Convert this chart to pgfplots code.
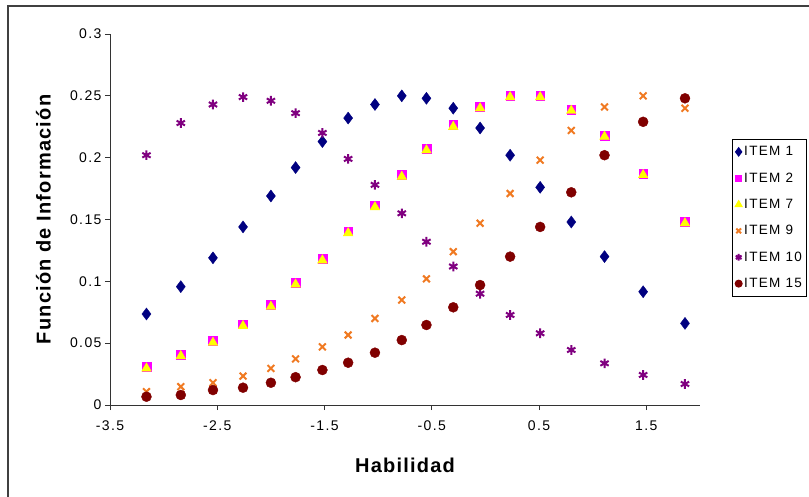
\documentclass[border=0pt]{standalone}
\usepackage{fontspec}
\setmainfont{Liberation Sans}
\newfontfamily\tickfont[LetterSpace=10]{Liberation Sans}
\newfontfamily\labelfont[LetterSpace=6]{Liberation Sans}
\usepackage{pgfplots}
\usepackage{pgfplotstable}
\pgfplotsset{compat=1.18}

\definecolor{item1}{HTML}{000080}
\definecolor{item2}{HTML}{FF00FF}
\definecolor{item7}{HTML}{FFFF00}
\definecolor{item9}{HTML}{F07A22}
\definecolor{item10}{HTML}{800080}
\definecolor{item15}{HTML}{800000}
\definecolor{frame}{HTML}{404040}

% Item information values at each ability level
\pgfplotstableread{
theta  i1     i2     i7     i9     i10    i15
-3.16  0.0736 0.0310 0.0296 0.0108 0.202  0.0067
-2.84  0.0957 0.0410 0.0396 0.0148 0.228  0.0081
-2.54  0.119  0.0518 0.0504 0.0180 0.243  0.0121
-2.26  0.144  0.0653 0.0639 0.0234 0.249  0.0140
-2.00  0.169  0.0810 0.0795 0.0296 0.246  0.0180
-1.77  0.192  0.0990 0.0975 0.0373 0.236  0.0225
-1.52  0.213  0.1185 0.117  0.0470 0.220  0.0283
-1.28  0.232  0.1405 0.139  0.0566 0.199  0.0342
-1.03  0.243  0.1615 0.160  0.0700 0.178  0.0423
-0.78  0.250  0.1860 0.1846 0.0849 0.155  0.0525
-0.55  0.248  0.2075 0.206  0.102  0.132  0.0647
-0.30  0.240  0.2265 0.225  0.124  0.112  0.0790
-0.05  0.224  0.2410 0.240  0.147  0.090  0.0970
 0.23  0.202  0.2500 0.249  0.171  0.0728 0.120
 0.51  0.176  0.2500 0.249  0.198  0.0580 0.144
 0.80  0.148  0.2390 0.238  0.222  0.0445 0.172
 1.11  0.120  0.2180 0.217  0.241  0.0337 0.202
 1.47  0.0916 0.1870 0.186  0.250  0.0243 0.229
 1.86  0.066  0.1485 0.147  0.240  0.0170 0.248
}\infotable

\begin{document}
\begin{tikzpicture}
\useasboundingbox (0bp,0bp) rectangle (809bp,-497bp);
% chart area border
\draw[frame, line width=1.6bp] (8bp,-510bp) -- (8bp,-6bp) -- (820bp,-6bp);
\begin{axis}[
  at={(110bp,-405bp)}, anchor=south west,
  scale only axis, width=590bp, height=371bp,
  xmin=-3.5, xmax=2, ymin=0, ymax=0.3,
  axis x line=bottom, axis y line=left,
  axis line style={black!80, line width=1bp, -},
  xtick={-3.5,-2.5,-1.5,-0.5,0.5,1.5},
  xticklabels={-3.5,-2.5,-1.5,-0.5,0.5,1.5},
  ytick={0,0.05,0.1,0.15,0.2,0.25,0.3},
  yticklabels={0,0.05,0.1,0.15,0.2,0.25,0.3},
  tick align=outside, major tick length=5bp,
  tick style={black!80, line width=1bp},
  ticklabel style={font=\tickfont\fontsize{14bp}{16bp}\selectfont},
  xticklabel style={yshift=-7bp},
  xlabel={Habilidad},
  ylabel={Función de Información},
  every axis x label/.style={at={(axis description cs:0.5,-0.1617)}, anchor=center,
    font=\labelfont\bfseries\fontsize{20bp}{22bp}\selectfont},
  every axis y label/.style={at={(axis description cs:-0.1127,0.5)}, anchor=center, rotate=90,
    font=\labelfont\bfseries\fontsize{20bp}{22bp}\selectfont},
  legend style={at={(axis description cs:1.0537,0.717)}, anchor=north west,
    draw=black, line width=1bp, inner xsep=3bp, inner ysep=5bp,
    font=\tickfont\fontsize{13.5bp}{15bp}\selectfont, row sep=11.5bp,
    cells={anchor=west}},
  legend image code/.code={\draw[mark repeat=2,mark phase=2, mark options={scale=0.7}]
    plot coordinates {(0bp,0bp)(6bp,0bp)(12bp,0bp)};},
  clip=false,
]
\addplot[only marks, mark=diamond*, mark size=6bp, color=item1] table[x=theta,y=i1] {\infotable};
\addlegendentry{ITEM 1}
\addplot[only marks, mark=square*, mark size=4.4bp, color=item2] table[x=theta,y=i2] {\infotable};
\addlegendentry{ITEM 2}
\addplot[only marks, mark=triangle*, mark size=5.6bp, color=item7] table[x=theta,y=i7] {\infotable};
\addlegendentry{ITEM 7}
\addplot[only marks, mark=x, mark size=4.8bp, color=item9, line width=2bp] table[x=theta,y=i9] {\infotable};
\addlegendentry{ITEM 9}
\addplot[only marks, mark=asterisk, mark size=4.8bp, color=item10, line width=2bp] table[x=theta,y=i10] {\infotable};
\addlegendentry{ITEM 10}
\addplot[only marks, mark=*, mark size=5bp, color=item15] table[x=theta,y=i15] {\infotable};
\addlegendentry{ITEM 15}
\end{axis}
\end{tikzpicture}
\end{document}
